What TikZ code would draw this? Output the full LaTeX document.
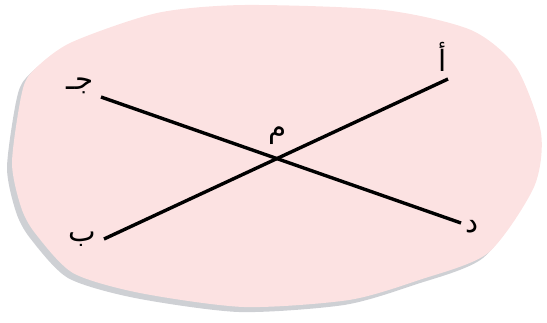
\documentclass[tikz,border=0pt]{standalone}
\usepackage{fontspec}
\newfontfamily\arabicfont[Script=Arabic]{DejaVu Sans}
\TeXXeTstate=1
\usetikzlibrary{positioning}
\definecolor{platecol}{RGB}{252,226,226}
\definecolor{shadecol}{RGB}{206,208,212}

\begin{document}
\begin{tikzpicture}[x=0.03cm,y=-0.03cm,
  seg/.style={line width=2.9pt},
  lbl/.style={font=\fontsize{25}{30}\selectfont\arabicfont,inner sep=0pt}]
  \useasboundingbox (0,0) rectangle (547,322);
  % plate, shadow first
  \foreach \dx/\dy/\col in {-5/5/shadecol,0/0/platecol}
    \fill[\col,shift={(\dx,\dy)}] plot[smooth cycle,tension=0.45] coordinates
      {(244,5) (157,13) (70,43) (31,73) (21,97) (12,163) (21,207) (35,233)
       (73,273) (140,293) (244,307) (349,300) (419,280) (488,253) (534,187)
       (541,133) (516,67) (471,30) (384,10)};
  % end points
  \coordinate (A) at (448,79);
  \coordinate (B) at (104,239);
  \coordinate (J) at (101,97);
  \coordinate (D) at (461,223);
  % the two lines
  \draw[seg] (A) -- (B);
  \draw[seg] (J) -- (D);
  % labels
  \node[lbl] (lA) at (443,57) {\beginR أ\endR};
  \node[lbl] (lJ) at (80,86) {\beginR جـ\endR};
  \node[lbl] (lM) at (278,136) {\beginR م\endR};
  \node[lbl] (lB) at (82,239) {\beginR ب\endR};
  \node[lbl] (lD) at (472,227) {\beginR د\endR};
\end{tikzpicture}
\end{document}
